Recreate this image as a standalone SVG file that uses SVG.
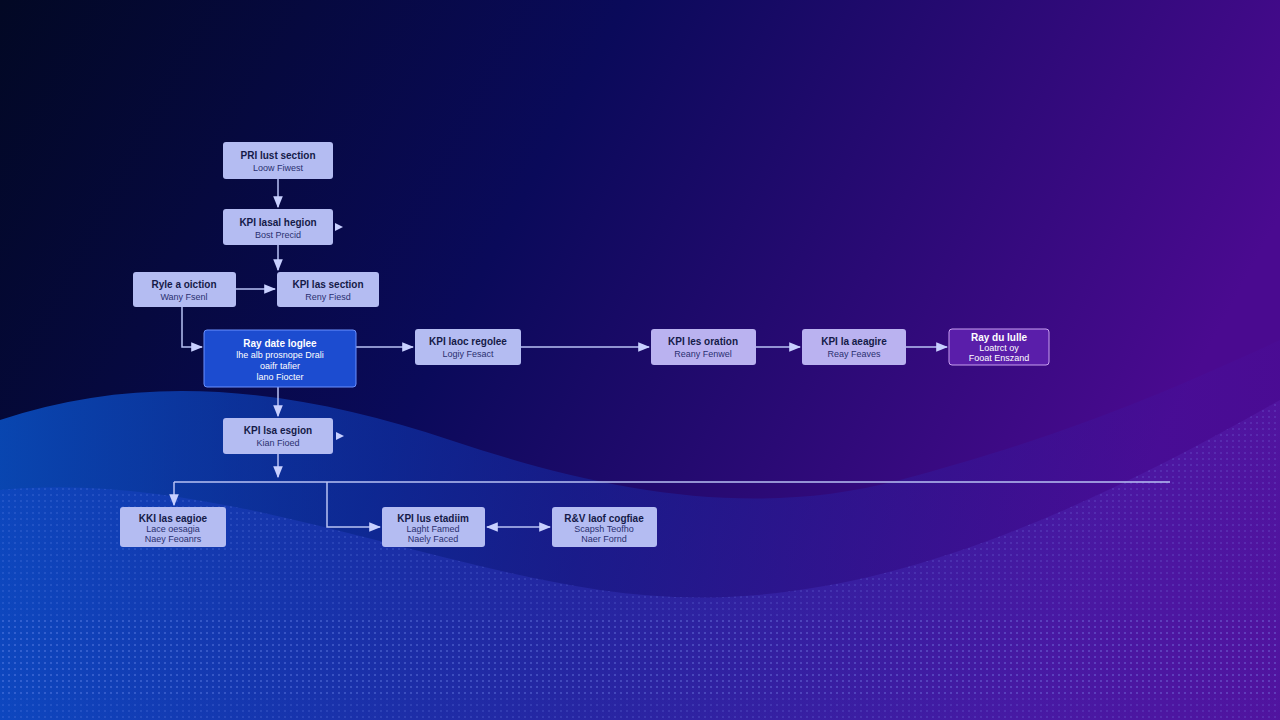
<svg xmlns="http://www.w3.org/2000/svg" width="1280" height="720" viewBox="0 0 1280 720">
<defs>
<linearGradient id="bg" x1="0" y1="0" x2="1" y2="0.3">
<stop offset="0" stop-color="#020824"/><stop offset="0.45" stop-color="#0a0a5a"/><stop offset="1" stop-color="#4a0a90"/>
</linearGradient>
<linearGradient id="wave" x1="0" y1="0" x2="1" y2="0">
<stop offset="0" stop-color="#0a5ad8"/><stop offset="0.45" stop-color="#1430b0" stop-opacity="0.6"/><stop offset="1" stop-color="#4a10a0" stop-opacity="0.3"/>
</linearGradient>
<linearGradient id="wave2" x1="0" y1="0" x2="1" y2="0">
<stop offset="0" stop-color="#1448d0"/><stop offset="1" stop-color="#5a20b0"/>
</linearGradient>
<pattern id="dots" width="6" height="6" patternUnits="userSpaceOnUse"><circle cx="3" cy="3" r="0.8" fill="#8aa0ff" opacity="0.35"/></pattern>
<marker id="ah" viewBox="0 0 10 10" refX="9" refY="5" markerWidth="8" markerHeight="8" orient="auto-start-reverse"><path d="M0,1 L10,5 L0,9 z" fill="#c8d0ff"/></marker>
<style>
.n rect{fill:#b4bcf2}
.p rect{fill:#bab2f0}
.t{font-family:"Liberation Sans",Arial,sans-serif;font-size:10px;font-weight:bold;fill:#141a48;text-anchor:middle}
.s{font-family:"Liberation Sans",Arial,sans-serif;font-size:9px;fill:#2a3070;text-anchor:middle}
.w{fill:#fff}
.c .l{stroke:#b8c2f4;stroke-width:1.5;fill:none}
.c .tri{fill:#c8d0ff;stroke:none}
</style>
</defs>
<rect width="1280" height="720" fill="url(#bg)"/>
<path d="M0,420 C150,370 300,390 450,440 C600,490 750,520 900,480 C1050,440 1150,400 1280,340 L1280,720 L0,720 z" fill="url(#wave)" opacity="0.75"/>
<path d="M0,490 C200,470 400,560 600,590 C800,620 1000,560 1280,400 L1280,720 L0,720 z" fill="url(#wave2)" opacity="0.4"/>
<path d="M0,490 C200,470 400,560 600,590 C800,620 1000,560 1280,400 L1280,720 L0,720 z" fill="url(#dots)"/>
<rect x="0" y="620" width="1280" height="75" fill="url(#dots)"/>

<g class="c">
<line class="l" x1="278" y1="179" x2="278" y2="207" marker-end="url(#ah)"/>
<line class="l" x1="278" y1="245" x2="278" y2="270" marker-end="url(#ah)"/>
<line class="l" x1="236" y1="289" x2="275" y2="289" marker-end="url(#ah)"/>
<path class="l" d="M182,307 V347 H202" marker-end="url(#ah)"/>
<line class="l" x1="356" y1="347" x2="413" y2="347" marker-end="url(#ah)"/>
<line class="l" x1="521" y1="347" x2="649" y2="347" marker-end="url(#ah)"/>
<line class="l" x1="756" y1="347" x2="800" y2="347" marker-end="url(#ah)"/>
<line class="l" x1="906" y1="347" x2="947" y2="347" marker-end="url(#ah)"/>
<line class="l" x1="278" y1="387" x2="278" y2="416" marker-end="url(#ah)"/>
<line class="l" x1="278" y1="454" x2="278" y2="477" marker-end="url(#ah)"/>
<path class="l" d="M174,482 H1170"/>
<line class="l" x1="174" y1="482" x2="174" y2="505" marker-end="url(#ah)"/>
<path class="l" d="M327,482 V527 H380" marker-end="url(#ah)"/>
<line class="l" x1="487" y1="527" x2="550" y2="527" marker-start="url(#ah)" marker-end="url(#ah)"/>
<path class="tri" d="M335,223 L343,227 L335,231 z"/>
<path class="tri" d="M336,432 L344,436 L336,440 z"/>
</g>

<g id="n1" class="n"><rect x="223" y="142" width="110" height="37" rx="3"/><text class="t" x="278" y="159">PRI lust section</text><text class="s" x="278" y="171">Loow Fiwest</text></g>
<g id="n2" class="n"><rect x="223" y="209" width="110" height="36" rx="3"/><text class="t" x="278" y="226">KPI lasal hegion</text><text class="s" x="278" y="238">Bost Precid</text></g>
<g id="n3" class="n"><rect x="133" y="272" width="103" height="35" rx="3"/><text class="t" x="184" y="288">Ryle a oiction</text><text class="s" x="184" y="300">Wany Fsenl</text></g>
<g id="n4" class="n"><rect x="277" y="272" width="102" height="35" rx="3"/><text class="t" x="328" y="288">KPI las section</text><text class="s" x="328" y="300">Reny Fiesd</text></g>
<g id="n5"><rect x="204" y="330" width="152" height="57" rx="3" fill="#1c4cd0" stroke="#6a90ff" stroke-width="1"/><text class="t w" x="280" y="347">Ray date loglee</text><text class="s w" x="280" y="358">lhe alb prosnope Drali</text><text class="s w" x="280" y="369">oaifr tafier</text><text class="s w" x="280" y="380">lano Fiocter</text></g>
<g id="n6" class="n"><rect x="415" y="329" width="106" height="36" rx="3"/><text class="t" x="468" y="345">KPI laoc regolee</text><text class="s" x="468" y="357">Logiy Fesact</text></g>
<g id="n7" class="n p"><rect x="651" y="329" width="105" height="36" rx="3"/><text class="t" x="703" y="345">KPI les oration</text><text class="s" x="703" y="357">Reany Fenwel</text></g>
<g id="n8" class="n p"><rect x="802" y="329" width="104" height="36" rx="3"/><text class="t" x="854" y="345">KPI la aeagire</text><text class="s" x="854" y="357">Reay Feaves</text></g>
<g id="n9"><rect x="949" y="329" width="100" height="36" rx="3" fill="#5a1eaa" stroke="#c8a0f0" stroke-width="1"/><text class="t w" x="999" y="341">Ray du lulle</text><text class="s w" x="999" y="351">Loatrct oy</text><text class="s w" x="999" y="361">Fooat Enszand</text></g>
<g id="n10" class="n"><rect x="223" y="418" width="110" height="36" rx="3"/><text class="t" x="278" y="434">KPI lsa esgion</text><text class="s" x="278" y="446">Kian Fioed</text></g>
<g id="n11" class="n"><rect x="120" y="507" width="106" height="40" rx="3"/><text class="t" x="173" y="522">KKI las eagioe</text><text class="s" x="173" y="532">Lace oesagia</text><text class="s" x="173" y="542">Naey Feoanrs</text></g>
<g id="n12" class="n"><rect x="382" y="507" width="103" height="40" rx="3"/><text class="t" x="433" y="522">KPI lus etadiim</text><text class="s" x="433" y="532">Laght Famed</text><text class="s" x="433" y="542">Naely Faced</text></g>
<g id="n13" class="n"><rect x="552" y="507" width="105" height="40" rx="3"/><text class="t" x="604" y="522">R&amp;V laof cogfiae</text><text class="s" x="604" y="532">Scapsh Teofho</text><text class="s" x="604" y="542">Naer Fornd</text></g>
</svg>
